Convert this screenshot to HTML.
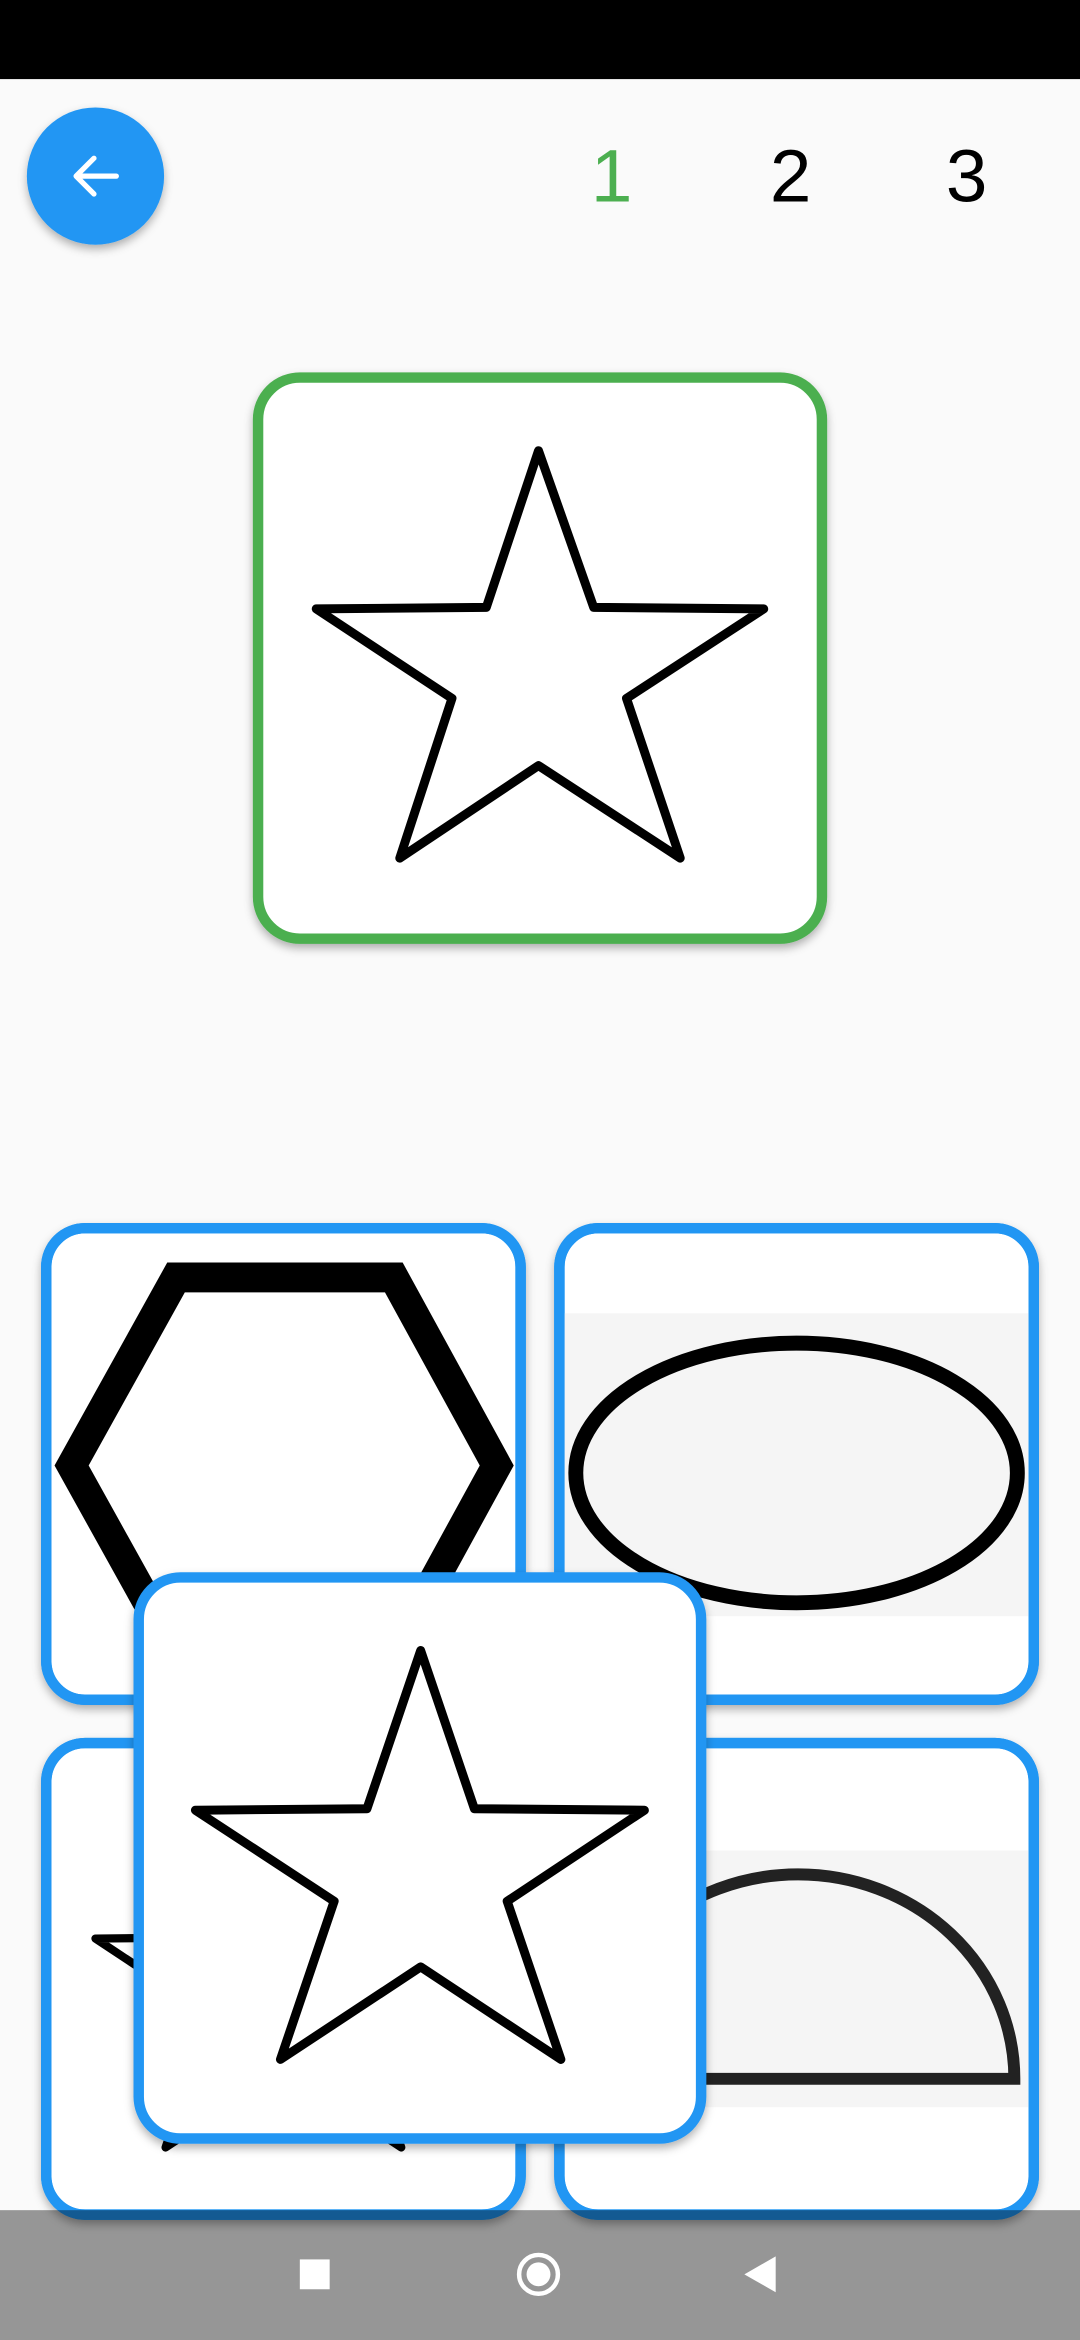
<!DOCTYPE html>
<html><head><meta charset="utf-8"><style>
html,body{margin:0;padding:0;background:#fafafa;}
svg{display:block;}
</style></head><body>
<svg width="1080" height="2340" viewBox="0 0 724 1568" preserveAspectRatio="none" xmlns="http://www.w3.org/2000/svg">
<defs>
<filter id="sh" x="-10%" y="-10%" width="120%" height="125%"><feDropShadow dx="0" dy="3" stdDeviation="3" flood-color="#000" flood-opacity="0.3"/></filter>
<clipPath id="c1"><rect x="31" y="823" width="318" height="316" rx="26"/></clipPath>
<clipPath id="c2"><rect x="375" y="823" width="318" height="316" rx="26"/></clipPath>
<clipPath id="c3"><rect x="31" y="1168" width="318" height="316" rx="26"/></clipPath>
<clipPath id="c4"><rect x="375" y="1168" width="318" height="316" rx="26"/></clipPath>
</defs>
<rect x="0" y="0" width="724" height="1568" fill="#fafafa"/>
<rect x="0" y="0" width="724" height="53" fill="#000"/>

<g>
<circle cx="64" cy="118" r="46" fill="#2196f3" filter="url(#sh)"/>
<path d="M78 118 H51 M63 106 L51 118 L63 130" stroke="#fff" stroke-width="3.5" fill="none" stroke-linecap="round" stroke-linejoin="round"/>
</g>
<g font-family="Liberation Sans, sans-serif" font-size="50" text-anchor="middle">
<text x="410" y="135" fill="#4caf50">1</text>
<text x="530" y="135" fill="#000">2</text>
<text x="648" y="135" fill="#000">3</text>
</g>

<g>
<rect x="173" y="253" width="378" height="376" rx="28" fill="#fff" stroke="#4caf50" stroke-width="7" filter="url(#sh)"/>
<polygon points="361,302 398,407 512,408 420,468 456,575 361,513 268,575 303,468 212,408 326,407" fill="#fff" stroke="#000" stroke-width="6" stroke-linejoin="round"/>
</g>

<g>
<rect x="31" y="823" width="318" height="316" rx="26" fill="#fff" stroke="#2196f3" stroke-width="7" filter="url(#sh)"/>
<g clip-path="url(#c1)"><polygon points="118,856 264,856 333,982 264,1108 118,1108 48,982" fill="none" stroke="#000" stroke-width="20"/></g>
<rect x="31" y="823" width="318" height="316" rx="26" fill="none" stroke="#2196f3" stroke-width="7"/>
</g>
<g>
<rect x="375" y="823" width="318" height="316" rx="26" fill="#fff" stroke="#2196f3" stroke-width="7" filter="url(#sh)"/>
<g clip-path="url(#c2)"><rect x="375" y="880" width="318" height="203" fill="#f5f5f5"/>
<ellipse cx="534" cy="987" rx="148" ry="87" fill="none" stroke="#000" stroke-width="10"/></g>
<rect x="375" y="823" width="318" height="316" rx="26" fill="none" stroke="#2196f3" stroke-width="7"/>
</g>
<g>
<rect x="31" y="1168" width="318" height="316" rx="26" fill="#fff" stroke="#2196f3" stroke-width="7" filter="url(#sh)"/>
<g clip-path="url(#c3)"><polygon points="190,1209 220,1298 316,1299 239,1350 269,1439 190,1387 111,1439 141,1350 64,1299 160,1298" fill="none" stroke="#000" stroke-width="5.5" stroke-linejoin="round"/></g>
<rect x="31" y="1168" width="318" height="316" rx="26" fill="none" stroke="#2196f3" stroke-width="7"/>
</g>
<g>
<rect x="375" y="1168" width="318" height="316" rx="26" fill="#fff" stroke="#2196f3" stroke-width="7" filter="url(#sh)"/>
<g clip-path="url(#c4)"><rect x="375" y="1240" width="318" height="172" fill="#f5f5f5"/>
<path d="M390 1393 A145 137 0 0 1 680 1393 Z" fill="none" stroke="#222" stroke-width="8"/></g>
<rect x="375" y="1168" width="318" height="316" rx="26" fill="none" stroke="#2196f3" stroke-width="7"/>
</g>

<g>
<rect x="93" y="1057" width="377" height="376" rx="28" fill="#fff" stroke="#2196f3" stroke-width="7" filter="url(#sh)"/>
<polygon points="282,1106 318,1212 432,1213 340,1274 376,1380 282,1318 188,1380 224,1274 131,1213 246,1212" fill="#fff" stroke="#000" stroke-width="6" stroke-linejoin="round"/>
</g>

<g>
<rect x="0" y="1481" width="724" height="87" fill="#000" fill-opacity="0.4"/>
<rect x="201" y="1514" width="20" height="20" fill="#fff"/>
<circle cx="361" cy="1524" r="13" fill="none" stroke="#fff" stroke-width="3"/>
<circle cx="361" cy="1524" r="8" fill="#fff"/>
<polygon points="499,1524 520,1512 520,1536" fill="#fff"/>
</g>
</svg>
</body></html>
